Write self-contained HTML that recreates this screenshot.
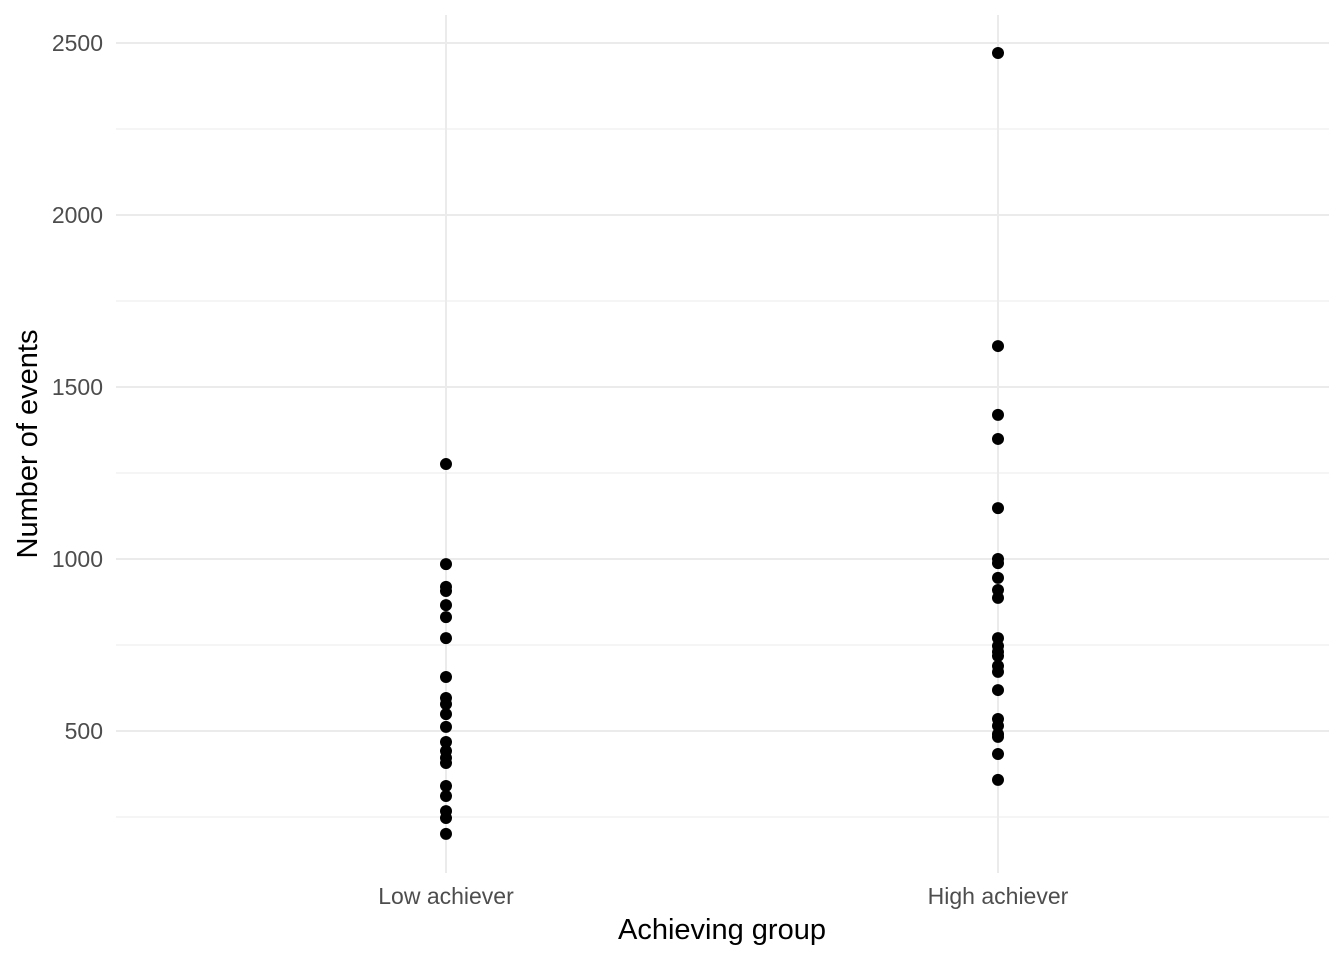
<!DOCTYPE html>
<html><head><meta charset="utf-8"><style>
body{margin:0;background:#fff;}
svg text{font-family:"Liberation Sans",sans-serif;}
</style></head><body>
<svg id="chart" width="1344" height="960" xmlns="http://www.w3.org/2000/svg">
<g id="grid"></g><g id="pts"></g><g id="axes"></g>
<text x="722" y="939" font-size="29" text-anchor="middle" fill="#000">Achieving group</text>
<text transform="translate(37,444) rotate(-90)" font-size="29" text-anchor="middle" fill="#000">Number of events</text>
</svg>
<script>
const categories = ["Low achiever", "High achiever"];
const lowValues = [1276,985,919,907,866,831,770,657,596,578,549,512,468,442,422,407,340,311,267,247,201];
const highValues = [2471,1619,1419,1349,1148,1000,988,945,910,887,770,747,730,718,689,672,619,535,515,491,483,433,358];
const yTicks = [500,1000,1500,2000,2500];
const yMinor = [250,750,1250,1750,2250];
const ns="http://www.w3.org/2000/svg";
const yS = v => 731 - (v-500)*0.344;
const xS = i => 446 + i*552;
const L=116,R=1329,T=15,B=873;
function mk(tag,attrs,parent){const e=document.createElementNS(ns,tag);for(const k in attrs)e.setAttribute(k,attrs[k]);parent.appendChild(e);return e;}
const grid=document.getElementById('grid'),pts=document.getElementById('pts'),axes=document.getElementById('axes');
yMinor.forEach(v=>{const l=mk('line',{x1:L,x2:R,y1:yS(v),y2:yS(v),stroke:'#ebebeb','stroke-width':1},grid);

});
yTicks.forEach(v=>{const l=mk('line',{x1:L,x2:R,y1:yS(v),y2:yS(v),stroke:'#ebebeb','stroke-width':2},grid);


const t=mk('text',{x:103,y:yS(v)+8,'font-size':23,'text-anchor':'end',fill:'#4d4d4d'},axes);t.textContent=v;

});
categories.forEach((c,i)=>{const l=mk('line',{x1:xS(i),x2:xS(i),y1:T,y2:B,stroke:'#ebebeb','stroke-width':2},grid);


const t=mk('text',{x:xS(i),y:904,'font-size':23,'text-anchor':'middle',fill:'#4d4d4d'},axes);t.textContent=c;

});
[lowValues,highValues].forEach((arr,i)=>arr.forEach(v=>{const c=mk('circle',{cx:xS(i),cy:yS(v),r:6,fill:'#000'},pts);

}));
</script>
</body></html>
